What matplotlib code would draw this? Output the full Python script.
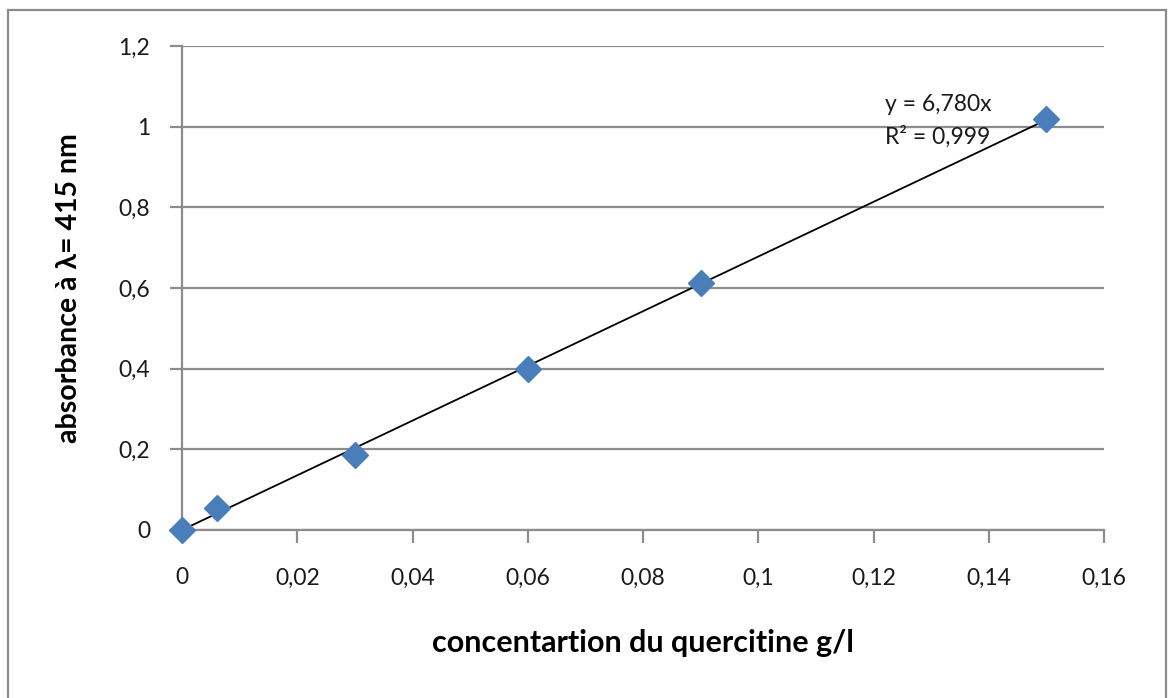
"""
Quercetin calibration curve
"""
import numpy as np
import matplotlib.pyplot as plt
from matplotlib.patches import Rectangle
from matplotlib.ticker import FuncFormatter

concentration = [0, 0.006, 0.03, 0.06, 0.09, 0.15]
absorbance = [0, 0.055, 0.186, 0.40, 0.612, 1.019]
slope = 6.780
r_squared = 0.999

x_ticks = [0, 0.02, 0.04, 0.06, 0.08, 0.1, 0.12, 0.14, 0.16]
y_ticks = [0, 0.2, 0.4, 0.6, 0.8, 1, 1.2]

plt.rcParams['font.family'] = ['Lato', 'DejaVu Sans']

W, H = 1168, 698
fig = plt.figure(figsize=(W / 100, H / 100), dpi=100)
ax = fig.add_axes([182 / W, 1 - 530 / H, (1104 - 182) / W, (530 - 46) / H])

# outer chart frame
fig.patches.append(Rectangle((8 / W, -0.01), (1166 - 8) / W, 1 - 10 / H + 0.01,
                             transform=fig.transFigure, fill=False,
                             edgecolor='#8c8c8c', linewidth=1.6))

fit_x = np.array([0, max(concentration)])
ax.plot(fit_x, slope * fit_x, color='black', linewidth=1.3, zorder=3)
ax.plot(concentration, absorbance, linestyle='none', marker='D',
        markersize=13, color='#4a7ebb', zorder=4, clip_on=False)

ax.set_xlim(0, 0.16)
ax.set_ylim(0, 1.2)
ax.set_xticks(x_ticks)
ax.set_yticks(y_ticks)


def comma(v, pos):
    text = ('%.2f' % v).rstrip('0').rstrip('.')
    return text.replace('.', ',')


ax.xaxis.set_major_formatter(FuncFormatter(comma))
ax.yaxis.set_major_formatter(FuncFormatter(comma))
ax.grid(axis='y', color='#8c8c8c', linewidth=1.6)
ax.set_axisbelow(True)
for side in ('top', 'right'):
    ax.spines[side].set_visible(False)
for side in ('left', 'bottom'):
    ax.spines[side].set_color('#8c8c8c')
    ax.spines[side].set_linewidth(1.6)
ax.tick_params(axis='both', direction='out', length=9, width=1.6,
               color='#8c8c8c', labelsize=16.5, labelcolor='#1a1a1a')
ax.tick_params(axis='x', pad=18)
ax.tick_params(axis='y', pad=14)

ax.set_xlabel("concentartion du quercitine g/l", fontsize=22,
              fontweight='bold', labelpad=29)
ax.set_ylabel("absorbance à λ= 415 nm", fontsize=20.5, fontweight='bold',
              labelpad=26)

ax.text(0.122, 1.014, "y = 6,780x\nR² = 0,999", fontsize=16.5,
        linespacing=1.55, va='center', ha='left', color='#1a1a1a')

fig.savefig("out.png", dpi=100)
